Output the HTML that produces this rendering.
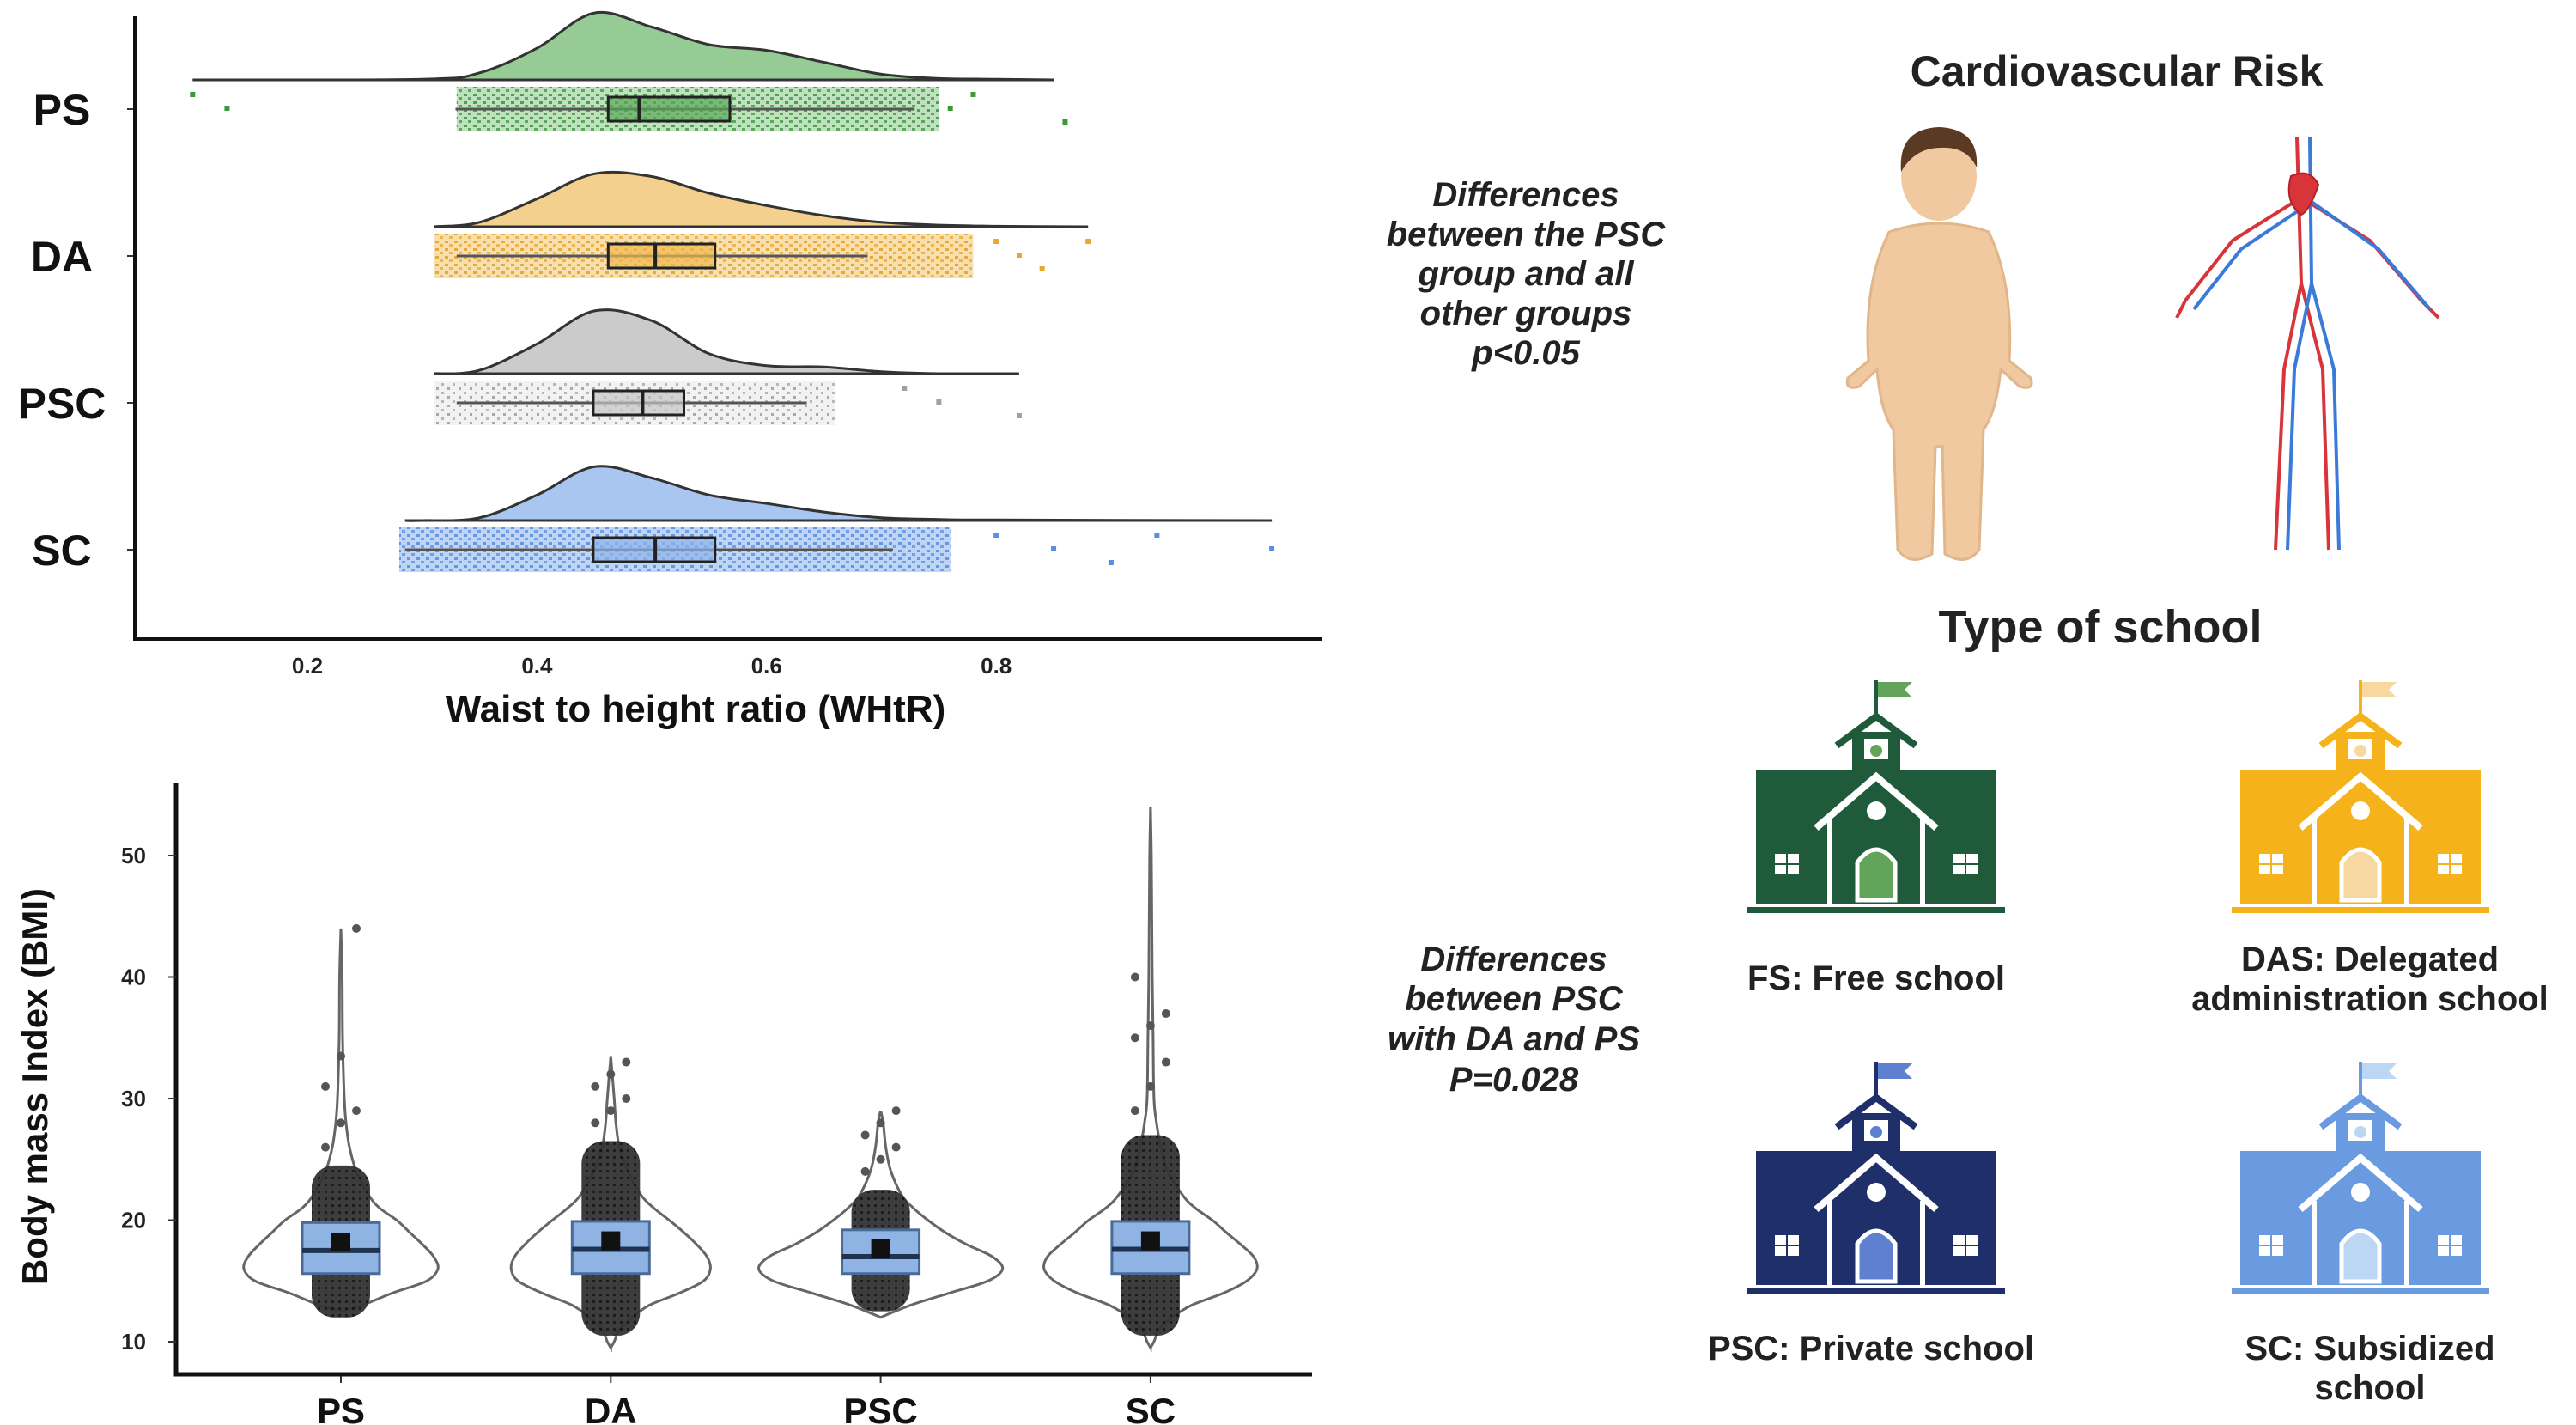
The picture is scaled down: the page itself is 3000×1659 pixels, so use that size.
<!DOCTYPE html>
<html><head><meta charset="utf-8">
<style>
html,body{margin:0;padding:0;background:#fff;}
svg{display:block;}
text{font-family:"Liberation Sans",sans-serif;}
</style></head>
<body>
<svg id="root" width="3000" height="1659" viewBox="0 0 3000 1659" xmlns="http://www.w3.org/2000/svg">
<defs>
 <pattern id="pt-green" width="11" height="9" patternUnits="userSpaceOnUse"><rect width="11" height="9" fill="#b5dcb5"/><rect x="1" y="1" width="4" height="3" fill="#2f8f2f"/><rect x="6" y="5" width="4" height="3" fill="#3a9a3a"/></pattern>
 <pattern id="pt-yellow" width="11" height="9" patternUnits="userSpaceOnUse"><rect width="11" height="9" fill="#f6d9a0"/><rect x="1" y="1" width="4" height="3" fill="#e29a1e"/><rect x="6" y="5" width="4" height="3" fill="#e8a830"/></pattern>
 <pattern id="pt-gray" width="13" height="10" patternUnits="userSpaceOnUse"><rect width="13" height="10" fill="#f0f0f0"/><rect x="1" y="1" width="3" height="3" fill="#9a9a9a"/><rect x="7" y="6" width="3" height="3" fill="#aaa"/></pattern>
 <pattern id="pt-blue" width="11" height="9" patternUnits="userSpaceOnUse"><rect width="11" height="9" fill="#b3cdf3"/><rect x="1" y="1" width="4" height="3" fill="#4f84dc"/><rect x="6" y="5" width="4" height="3" fill="#5b8ee0"/></pattern>
 <pattern id="pt-black" width="8" height="8" patternUnits="userSpaceOnUse"><rect width="8" height="8" fill="#333"/><rect x="2" y="2" width="3" height="3" fill="#111"/></pattern>
</defs>
<g id="topchart"></g>
<g id="botchart"></g>
<g id="right">
 <text x="2465" y="100" font-size="50" font-weight="bold" text-anchor="middle" fill="#222">Cardiovascular Risk</text>
 <g font-size="40" font-weight="bold" font-style="italic" text-anchor="middle" fill="#222">
  <text x="1777" y="240">Differences</text><text x="1777" y="286">between the PSC</text><text x="1777" y="332">group and all</text><text x="1777" y="378">other groups</text><text x="1777" y="424">p&lt;0.05</text>
 </g>
 <g font-size="40" font-weight="bold" font-style="italic" text-anchor="middle" fill="#222">
  <text x="1763" y="1130">Differences</text><text x="1763" y="1176">between PSC</text><text x="1763" y="1223">with DA and PS</text><text x="1763" y="1270">P=0.028</text>
 </g>
 <g>
  <ellipse cx="2258" cy="205" rx="44" ry="52" fill="#f0c9a0"/>
  <path d="M2214,200 Q2210,150 2258,148 Q2305,150 2302,195 Q2290,170 2260,172 Q2230,172 2214,200Z" fill="#5a3a22"/>
  <path d="M2200,270 Q2258,250 2316,270 Q2345,330 2340,420 L2365,440 Q2370,455 2352,450 L2330,430 Q2325,480 2310,500 L2305,640 Q2290,660 2265,645 L2262,520 L2254,520 L2250,645 Q2225,660 2210,640 L2205,500 Q2190,480 2186,430 L2165,450 Q2148,455 2152,440 L2176,420 Q2170,330 2200,270Z" fill="#f0c9a0" stroke="#e0b68a" stroke-width="3"/>
 </g>
 <g fill="none" stroke-width="4">
  <path d="M2675,160 L2680,330 L2660,430 L2650,640 M2680,330 L2705,430 L2712,640 M2680,230 L2600,280 L2545,350 L2535,370 M2680,230 L2760,280 L2820,350 L2840,370" stroke="#d8343a"/>
  <path d="M2690,160 L2692,330 L2672,430 L2664,640 M2692,330 L2718,430 L2724,640 M2692,235 L2610,290 L2555,360 M2692,235 L2770,290 L2830,360" stroke="#3a7ad8"/>
  <path d="M2668,205 Q2690,195 2700,215 Q2690,245 2680,250 Q2660,235 2668,205Z" fill="#d8343a" stroke="#b02028" stroke-width="2"/>
 </g>
 <text x="2446" y="748" font-size="54" font-weight="bold" text-anchor="middle" fill="#222">Type of school</text>
 <g id="schools"></g>
 <g font-size="40" font-weight="bold" text-anchor="middle" fill="#222">
  <text x="2185" y="1152">FS: Free school</text>
  <text x="2760" y="1130">DAS: Delegated</text>
  <text x="2760" y="1176">administration school</text>
  <text x="2179" y="1583">PSC: Private school</text>
  <text x="2760" y="1583">SC: Subsidized</text>
  <text x="2760" y="1629">school</text>
 </g>
</g>
</svg>
<script>
// ===== Top chart data (WHtR raincloud) =====
const topCats = ["PS","DA","PSC","SC"];
const topTicks = [0.2,0.4,0.6,0.8];
const densGrid = [0.30,0.35,0.40,0.45,0.50,0.55,0.60,0.65,0.70,0.75,0.80];
const densPS  = [0.01,0.10,0.45,0.95,0.75,0.50,0.42,0.25,0.08,0.02,0.01];
const densDA  = [0.00,0.08,0.50,0.95,0.90,0.60,0.38,0.20,0.08,0.03,0.01];
const densPSC = [0.00,0.05,0.45,0.95,0.80,0.30,0.12,0.10,0.03,0.00,0.00];
const densSC  = [0.00,0.05,0.45,0.95,0.75,0.45,0.30,0.15,0.05,0.02,0.01];
const densMin = [0.10,0.31,0.31,0.285];
const densMax = [0.85,0.88,0.82,1.04];
const densPeak = [82,65,77,66];
const q1Top  = [0.462,0.462,0.449,0.449];
const medTop = [0.489,0.503,0.492,0.503];
const q3Top  = [0.568,0.555,0.528,0.555];
const wLoTop = [0.329,0.330,0.330,0.285];
const wHiTop = [0.729,0.688,0.635,0.710];
const cloudLo = [0.33,0.31,0.31,0.28];
const cloudHi = [0.75,0.78,0.66,0.76];
const outPS  = [0.10,0.13,0.86,0.78,0.76];
const outDA  = [0.80,0.82,0.84,0.88];
const outPSC = [0.72,0.75,0.82];
const outSC  = [0.80,0.85,0.90,0.94,1.04];

// ===== Bottom chart data (BMI violins) =====
const botCats = ["PS","DA","PSC","SC"];
const botTicks = [10,20,30,40,50];
const bmiGrid = [9.5,10,11,12,13,14,15,16,17,18,19,20,21,22,24,26,28,30,35,40,45,50,54];
const vPS  = [0,0,0,0,25,60,100,113,108,95,80,65,45,33,18,10,6,4,2,1.5,0,0,0];
const vDA  = [0,4,10,25,45,80,108,116,112,100,85,68,50,36,20,10,6,4,0,0,0,0,0];
const vPSC = [0,0,0,5,35,80,125,142,130,100,75,55,38,25,12,6,3,0,0,0,0,0,0];
const vSC  = [0,4,10,25,48,85,112,124,120,105,88,72,52,38,20,12,7,4,3,2,1.5,1,0];
const vMin = [12.5,9.5,12,9.5];
const vMax = [44,33.5,29,54];
const q1Bot  = [15.6,15.6,15.6,15.6];
const medBot = [17.5,17.6,17.0,17.6];
const q3Bot  = [19.8,19.9,19.2,19.9];
const meanBot= [18.2,18.3,17.7,18.3];
const bandLo = [12.0,10.5,12.5,10.5];
const bandHi = [24.5,26.5,22.5,27.0];
const outBotPS  = [26,28,29,31,33.5,44];
const outBotDA  = [28,29,30,31,32,33];
const outBotPSC = [24,25,26,27,28,29];
const outBotSC  = [29,31,33,35,36,37,40];

const NS="http://www.w3.org/2000/svg";
function mk(tag,attrs,parent){const e=document.createElementNS(NS,tag);for(const k in attrs)e.setAttribute(k,attrs[k]);parent.appendChild(e);return e;}
function smooth(pts){let d="M"+pts[0][0]+","+pts[0][1];for(let i=0;i<pts.length-1;i++){const p0=pts[Math.max(0,i-1)],p1=pts[i],p2=pts[i+1],p3=pts[Math.min(pts.length-1,i+2)];const c1=[p1[0]+(p2[0]-p0[0])/6,p1[1]+(p2[1]-p0[1])/6],c2=[p2[0]-(p3[0]-p1[0])/6,p2[1]-(p3[1]-p1[1])/6];d+=" C"+c1[0].toFixed(1)+","+c1[1].toFixed(1)+" "+c2[0].toFixed(1)+","+c2[1].toFixed(1)+" "+p2[0].toFixed(1)+","+p2[1].toFixed(1);}return d;}

// ---- top chart
const topG=document.getElementById('topchart');
const xT=v=>358+(v-0.2)*1337;
const yCat=i=>127+i*171;
const densSets=[densPS,densDA,densPSC,densSC];
const outSets=[outPS,outDA,outPSC,outSC];
const fills=["#96cb96","#f4d08f","#cbcbcb","#a9c6f0"];
const pats=["pt-green","pt-yellow","pt-gray","pt-blue"];
const ptCol=["#3a9a3a","#e8a830","#a0a0a0","#5b8ee0"];
const boxFill=["#5aa85a","#f0b850","#c4c4c4","#8db3ec"];
topCats.forEach((c,i)=>{
  const g=mk('g',{},topG);
  
  
  const base=yCat(i)-34;
  const pts=[[xT(densMin[i]),base]];
  densGrid.forEach((gx,k)=>{if(gx>densMin[i]&&gx<densMax[i])pts.push([xT(gx),base-densSets[i][k]*densPeak[i]]);});
  pts.push([xT(densMax[i]),base]);
  const d=smooth(pts);
  const dp=mk('path',{d:d+" Z",fill:fills[i],stroke:"#333","stroke-width":3},g);
  
  
  const cl=mk('rect',{x:xT(cloudLo[i]),y:yCat(i)-26,width:xT(cloudHi[i])-xT(cloudLo[i]),height:52,fill:"url(#"+pats[i]+")",opacity:0.85},g);
  
  
  outSets[i].forEach((v,k)=>{
    const p=mk('rect',{x:xT(v)-3,y:yCat(i)-20+(k%3)*16,width:6,height:6,fill:ptCol[i]},g);
    
    
  });
  const w=mk('line',{x1:xT(wLoTop[i]),x2:xT(wHiTop[i]),y1:yCat(i),y2:yCat(i),stroke:"#555","stroke-width":3},g);
  
  
  const b=mk('rect',{x:xT(q1Top[i]),y:yCat(i)-14,width:xT(q3Top[i])-xT(q1Top[i]),height:28,fill:boxFill[i],"fill-opacity":0.7,stroke:"#222","stroke-width":3},g);
  
  
  const m=mk('line',{x1:xT(medTop[i]),x2:xT(medTop[i]),y1:yCat(i)-14,y2:yCat(i)+14,stroke:"#222","stroke-width":4},g);
  
  
  const t=mk('text',{x:72,y:yCat(i)+18,"font-size":50,"font-weight":"bold","text-anchor":"middle",fill:"#111"},topG);
  t.textContent=c;
  
  
  mk('line',{x1:148,x2:157,y1:yCat(i),y2:yCat(i),stroke:"#333","stroke-width":2},topG);
});
let ax=mk('path',{d:"M157,19 L157,744 L1540,744",fill:"none",stroke:"#111","stroke-width":4},topG);


topTicks.forEach(v=>{
  const t=mk('text',{x:xT(v),y:784,"font-size":26,"font-weight":"bold","text-anchor":"middle",fill:"#222"},topG);
  t.textContent=v.toFixed(1);
  
  
});
let tt=mk('text',{x:810,y:840,"font-size":44,"font-weight":"bold","text-anchor":"middle",fill:"#111"},topG);
tt.textContent="Waist to height ratio (WHtR)";



// ---- bottom chart
const botG=document.getElementById('botchart');
const yB=v=>1562-(v-10)*14.15;
const xB=i=>397+i*314.3;
const vSets=[vPS,vDA,vPSC,vSC];
const outB=[outBotPS,outBotDA,outBotPSC,outBotSC];
botCats.forEach((c,i)=>{
  const g=mk('g',{},botG);
  
  
  const cx=xB(i);
  const right=[],left=[];
  bmiGrid.forEach((b,k)=>{if(b>vMin[i]&&b<vMax[i]){right.push([cx+vSets[i][k],yB(b)]);}});
  right.unshift([cx,yB(vMin[i])]);right.push([cx,yB(vMax[i])]);
  for(let k=right.length-1;k>=0;k--)left.push([2*cx-right[k][0],right[k][1]]);
  const vp=mk('path',{d:smooth(right)+" "+smooth(left).replace("M","L")+" Z",fill:"none",stroke:"#666","stroke-width":3},g);
  
  
  const bd=mk('rect',{x:cx-34,y:yB(bandHi[i]),width:68,height:yB(bandLo[i])-yB(bandHi[i]),rx:26,fill:"url(#pt-black)",opacity:0.95},g);
  
  
  outB[i].forEach((v,k)=>{
    const p=mk('circle',{cx:cx+((k%3)-1)*18,cy:yB(v),r:5,fill:"#555"},g);
    
    
  });
  const b=mk('rect',{x:cx-45,y:yB(q3Bot[i]),width:90,height:yB(q1Bot[i])-yB(q3Bot[i]),fill:"#8fb4e4",stroke:"#4a6a98","stroke-width":3},g);
  
  
  const m=mk('line',{x1:cx-45,x2:cx+45,y1:yB(medBot[i]),y2:yB(medBot[i]),stroke:"#1e3350","stroke-width":6},g);
  
  
  const mn=mk('rect',{x:cx-11,y:yB(meanBot[i])-11,width:22,height:22,fill:"#111"},g);
  
  
  const t=mk('text',{x:cx,y:1657,"font-size":42,"font-weight":"bold","text-anchor":"middle",fill:"#111"},botG);
  t.textContent=c;
  
  
  mk('line',{x1:cx,x2:cx,y1:1600,y2:1610,stroke:"#333","stroke-width":2},botG);
});
ax=mk('path',{d:"M205,912 L205,1600 L1528,1600",fill:"none",stroke:"#111","stroke-width":5},botG);


botTicks.forEach(v=>{
  const t=mk('text',{x:170,y:yB(v)+9,"font-size":26,"font-weight":"bold","text-anchor":"end",fill:"#222"},botG);
  t.textContent=v;
  
  
  mk('line',{x1:196,x2:205,y1:yB(v),y2:yB(v),stroke:"#333","stroke-width":2},botG);
});
tt=mk('text',{x:0,y:0,"font-size":42,"font-weight":"bold","text-anchor":"middle",fill:"#111",transform:"translate(55,1265) rotate(-90)"},botG);
tt.textContent="Body mass Index (BMI)";



// ---- schools
const sch=document.getElementById('schools');
function school(name,x,y,main,accent){
  const g=mk('g',{transform:"translate("+x+","+y+")"},sch);
  
  
  mk('line',{x1:150,y1:0,x2:150,y2:42,stroke:main,"stroke-width":4},g);
  mk('path',{d:"M152,2 L192,2 L183,11 L192,20 L152,20Z",fill:accent},g);
  mk('rect',{x:122,y:60,width:56,height:44,fill:main},g);
  mk('polyline',{points:"104,76 150,42 196,76",fill:"none",stroke:main,"stroke-width":8},g);
  mk('rect',{x:136,y:68,width:28,height:24,fill:"#fff"},g);
  mk('circle',{cx:150,cy:82,r:7,fill:accent},g);
  mk('rect',{x:10,y:104,width:280,height:156,fill:main},g);
  mk('polyline',{points:"80,172 150,112 220,172",fill:"none",stroke:"#fff","stroke-width":8},g);
  mk('line',{x1:96,y1:162,x2:96,y2:260,stroke:"#fff","stroke-width":6},g);
  mk('line',{x1:204,y1:162,x2:204,y2:260,stroke:"#fff","stroke-width":6},g);
  mk('circle',{cx:150,cy:152,r:11,fill:"#fff"},g);
  mk('path',{d:"M128,256 L128,212 Q150,182 172,212 L172,256Z",fill:accent,stroke:"#fff","stroke-width":5},g);
  [[32,202],[240,202]].forEach(p=>{
    mk('rect',{x:p[0],y:p[1],width:28,height:24,fill:"#fff"},g);
    mk('line',{x1:p[0]+14,y1:p[1],x2:p[0]+14,y2:p[1]+24,stroke:main,"stroke-width":2},g);
    mk('line',{x1:p[0],y1:p[1]+12,x2:p[0]+28,y2:p[1]+12,stroke:main,"stroke-width":2},g);
  });
  mk('rect',{x:0,y:264,width:300,height:7,fill:main},g);
}
school('school-fs',2035,792,"#1f5a3a","#62a55a");
school('school-das',2599,792,"#f5b21b","#f6d8a0");
school('school-psc',2035,1236,"#1f2f6a","#5f7fd0");
school('school-sc',2599,1236,"#6a9be0","#bcd7f3");
</script>
</body></html>
